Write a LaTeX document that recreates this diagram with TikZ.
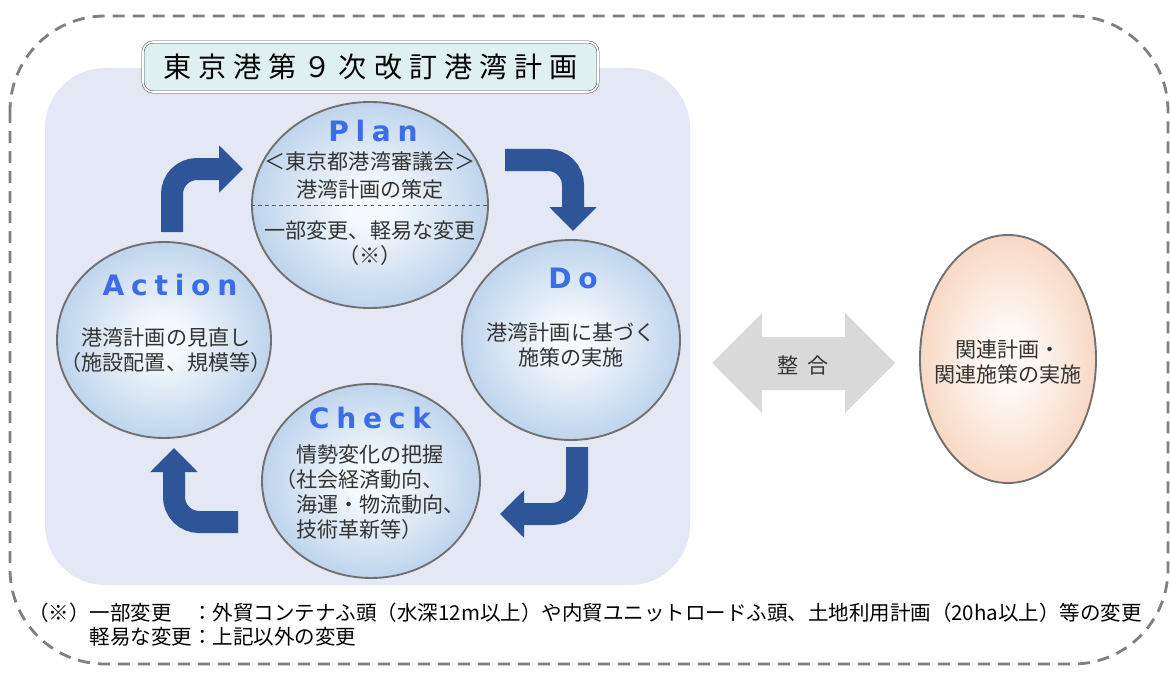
\documentclass[tikz,border=0pt]{standalone}
\usepackage{fontspec}
\setmainfont{Noto Sans CJK JP}
\newfontfamily\titlefont[LetterSpace=25]{Noto Sans CJK JP}
\newfontfamily\pdcafont[LetterSpace=24]{DejaVu Sans}
\usepackage{xcolor}
\usepackage{tikz}
\usetikzlibrary{arrows.meta,shapes.geometric}
\definecolor{pdcablue}{HTML}{3A6DE6}
\definecolor{arrowblue}{HTML}{2E5597}
\definecolor{panelfill}{HTML}{E3E8F4}
\definecolor{titlefill}{HTML}{DFF0F0}
\definecolor{bubblein}{HTML}{F5F9FD}
\definecolor{bubbleout}{HTML}{A9C6E6}
\definecolor{eggin}{HTML}{FFF9F5}
\definecolor{eggout}{HTML}{F3C6A8}
\definecolor{ringgray}{HTML}{707070}
\pgfdeclareradialshading{bubble}{\pgfpointorigin}{color(0bp)=(bubblein); color(5bp)=(bubblein); color(33bp)=(bubbleout); color(50bp)=(bubbleout)}
\pgfdeclareradialshading{egg}{\pgfpointorigin}{color(0bp)=(eggin); color(6bp)=(eggin); color(36bp)=(eggout); color(50bp)=(eggout)}

\begin{document}
\begin{tikzpicture}[
    x=0.03cm, y=-0.03cm,
    phase/.style={bubble, shading=bubble, draw=ringgray, line width=1.6pt, inner sep=0pt},
    phaselabel/.style={font=\pdcafont\bfseries\fontsize{24}{24}\selectfont, text=pdcablue},
    body/.style={font=\fontsize{18}{21.3}\selectfont, text=black!80, align=center},
    cyclearrow/.style={draw=arrowblue, line width=0.66cm, rounded corners=0.75cm, -{Triangle[width=1.38cm, length=0.72cm]}},
    bubble/.style={ellipse}
]
\useasboundingbox (0,0) rectangle (1170,675);

\draw[gray, line width=2.4pt, dash pattern=on 0.36cm off 0.24cm, rounded corners=2.85cm] (10,16) rectangle (1168,664);
\fill[panelfill, rounded corners=1.8cm] (45,68) rectangle (690,585);
\node[draw=black!70, double, double distance=1.5pt, fill=titlefill, rounded corners=0.3cm, minimum width=13.65cm, minimum height=1.5cm, font=\titlefont\fontsize{24}{24}\selectfont] (title) at (370.5,67) {東京港第９次改訂港湾計画};

\node[phase, minimum width=7.08cm, minimum height=6.18cm] (plan) at (370,205) {};
\node[phase, minimum width=6.42cm, minimum height=5.88cm] (action) at (164,340) {};
\node[phase, minimum width=6.54cm, minimum height=6.0cm] (do) at (571,340) {};
\node[phase, minimum width=6.54cm, minimum height=5.82cm] (check) at (371,481) {};

\node[phaselabel] (planlbl) at (373,131) {Plan};
\node[body, font=\fontsize{18}{23.9}\selectfont] (planup) at (370,176) {＜東京都港湾審議会＞\\港湾計画の策定};
\draw[dashed, black!65] (plan.west) -- (plan.east);
\node[body] (plandown) at (370,243) {一部変更、軽易な変更\\（※）};

\node[phaselabel] (actionlbl) at (170,285) {Action};
\node[body] (actiontext) at (166,350) {港湾計画の見直し\\（施設配置、規模等）};

\node[phaselabel] (dolbl) at (573,278) {Do};
\node[body] (dotext) at (571,345) {港湾計画に基づく\\施策の実施};

\node[phaselabel] (checklbl) at (370,418) {Check};
\node[body, align=left, anchor=west] (checktext) at (292,492) {情勢変化の把握\\\llap{（}社会経済動向、\\海運・物流動向、\\技術革新等）};

\coordinate (a1s) at (172,232);
\coordinate (a1e) at (243,169);
\coordinate (a2s) at (505,160);
\coordinate (a2e) at (573,231);
\coordinate (a3s) at (577,447);
\coordinate (a3e) at (500,514);
\coordinate (a4s) at (238,522);
\coordinate (a4e) at (174,448);
\draw[cyclearrow] (a1s) |- (a1e);
\draw[cyclearrow] (a2s) -| (a2e);
\draw[cyclearrow] (a3s) |- (a3e);
\draw[cyclearrow] (a4s) -| (a4e);

\fill[black!15] (712,363) -- (762,313) -- (762,337) -- (845,337) -- (845,313) -- (895,363)
  -- (845,413) -- (845,390) -- (762,390) -- (762,413) -- cycle;
\node[body] (seigo) at (803,365) {整\hspace{0.4em}合};

\node[bubble, shading=egg, draw=ringgray, line width=1.6pt, minimum width=5.28cm, minimum height=7.44cm] (related) at (1008,359) {};
\node[body] (relatedtext) at (1008,362) {関連計画・\\関連施策の実施};

\node[font=\fontsize{17.5}{20.5}\selectfont, align=left, anchor=north west, inner sep=0pt] (note) at (28,603) {（※）一部変更　：外貿コンテナふ頭（水深12m以上）や内貿ユニットロードふ頭、土地利用計画（20ha以上）等の変更\\\hspace*{3em}軽易な変更：上記以外の変更};
\end{tikzpicture}
\end{document}
